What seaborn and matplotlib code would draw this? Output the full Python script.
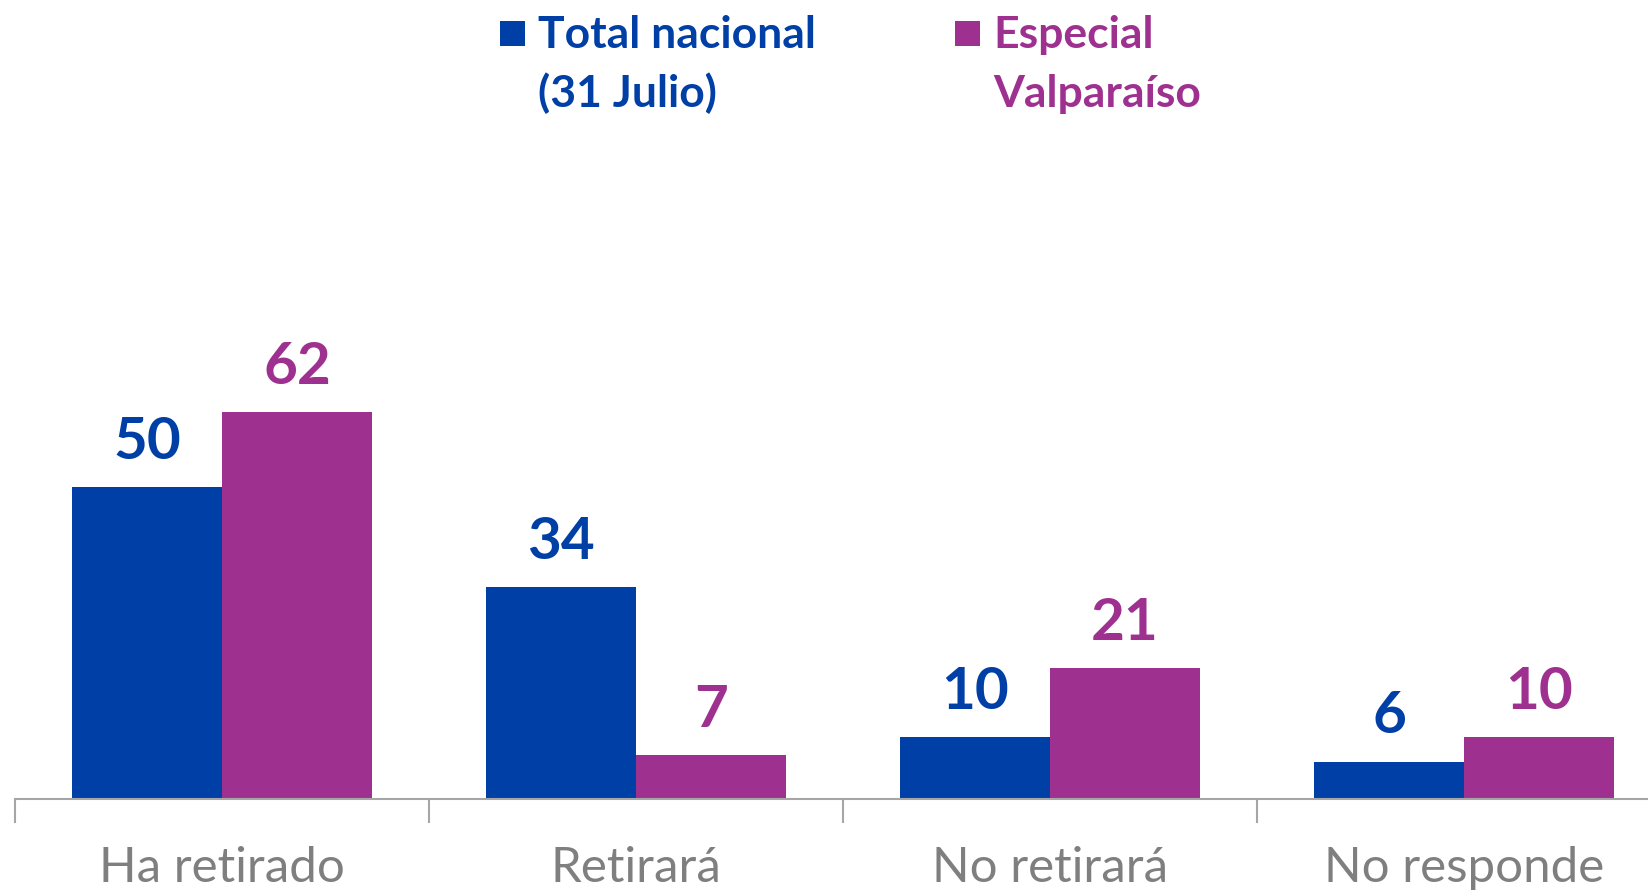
import matplotlib
matplotlib.use('Agg')
import matplotlib.pyplot as plt
import matplotlib.patches as mpatches
import numpy as np
import pandas as pd
import seaborn as sns

# data
categories = ['Ha retirado', 'Retirará', 'No retirará', 'No responde']
series_names = ['Total nacional\n(31 Julio)', 'Especial\nValparaíso']
total_nacional = [50, 34, 10, 6]
especial_valpo = [62, 7, 21, 10]

BLUE = '#003FA6'
PURPLE = '#9E3090'
GREY = '#7F7F7F'

W, H = 1649, 893

sns.set_theme(style='white')
plt.rcParams['font.family'] = ['Lato', 'DejaVu Sans']

df = pd.DataFrame({
    'categoria': categories * 2,
    'serie': [series_names[0]] * 4 + [series_names[1]] * 4,
    'valor': total_nacional + especial_valpo,
})

fig = plt.figure(figsize=(W / 100, H / 100), dpi=100)
ax = fig.add_axes([15 / W, 94 / H, 1 - 15 / W, 1 - 94 / H])

sns.barplot(data=df, x='categoria', y='valor', hue='serie', order=categories,
            hue_order=series_names, palette=[BLUE, PURPLE], width=0.725,
            gap=0, saturation=1, linewidth=0, ax=ax, legend=False)

ax.set_xlim(-0.5, -0.5 + 1634 / 414)
ax.set_ylim(0, 128)

# value labels above bars
for cont, col in zip(ax.containers, [BLUE, PURPLE]):
    ax.bar_label(cont, padding=13, color=col, fontsize=42, fontweight='bold')

# axis styling
for s in ['top', 'right', 'left']:
    ax.spines[s].set_visible(False)
ax.spines['bottom'].set_color('#A6A6A6')
ax.spines['bottom'].set_linewidth(1.5)
ax.set_yticks([])
ax.set_xlabel('')
ax.set_ylabel('')

# category boundary ticks
ax.set_xticks(np.arange(len(categories)) - 0.5, minor=False)
ax.set_xticklabels([])
ax.tick_params(axis='x', which='major', direction='out', length=17, width=1.5,
               color='#A6A6A6', bottom=True)
ax.set_xticks(np.arange(len(categories)), minor=True)
ax.set_xticklabels(categories, minor=True)
ax.tick_params(axis='x', which='minor', length=0, pad=34, labelsize=35.5,
               labelcolor=GREY)

# legend, drawn by hand: square next to first line, two text lines
legend_x = [500, 955]
for name, col, x0 in zip(series_names, [BLUE, PURPLE], legend_x):
    fig.add_artist(mpatches.Rectangle((x0 / W, 1 - 46 / H), 25 / W, 25 / H,
                                      transform=fig.transFigure, color=col,
                                      linewidth=0))
    for line, yb in zip(name.split('\n'), [48, 107]):
        fig.text((x0 + 38) / W, 1 - yb / H, line, color=col, fontsize=32,
                 fontweight='bold', va='baseline', ha='left')

fig.savefig('out.png', dpi=100)
